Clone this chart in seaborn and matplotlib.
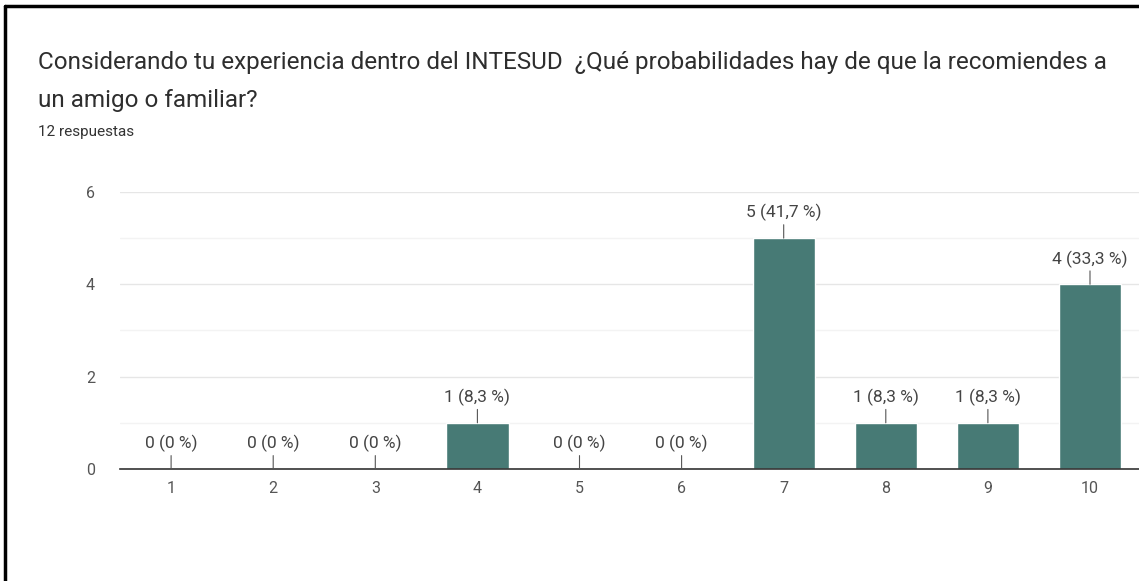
import matplotlib
matplotlib.use("Agg")
import matplotlib.pyplot as plt
from matplotlib.lines import Line2D
import seaborn as sns
import pandas as pd

# Survey data: score options and number of responses per score
scores = ["1", "2", "3", "4", "5", "6", "7", "8", "9", "10"]
counts = [0, 0, 0, 1, 0, 0, 5, 1, 1, 4]
total_responses = 12
y_ticks = [0, 2, 4, 6]

title_line1 = "Considerando tu experiencia dentro del INTESUD  ¿Qué probabilidades hay de que la recomiendes a"
title_line2 = "un amigo o familiar?"
subtitle_text = f"{total_responses} respuestas"

bar_color = "#477a75"

sns.set_theme(style="white")
plt.rcParams["font.family"] = ["Roboto", "DejaVu Sans"]

W, H = 1139, 581
fig = plt.figure(figsize=(W / 100, H / 100), dpi=100)
ax = fig.add_axes([0.1054, 0.1928, 0.8946, 0.4768])

df = pd.DataFrame({"score": scores, "count": counts})
sns.barplot(data=df, x="score", y="count", order=scores, color=bar_color,
            width=0.61, saturation=1, ax=ax, zorder=3)

ax.set_xlim(-0.5, 9.48)
ax.set_ylim(0, 6)
ax.set_yticks(y_ticks)
ax.set_yticks([1, 3, 5], minor=True)
ax.grid(axis="y", which="major", color="#e6e6e6", lw=1, zorder=0)
ax.grid(axis="y", which="minor", color="#f3f3f3", lw=1, zorder=0)
ax.set_xlabel("")
ax.set_ylabel("")
for s in ["top", "right", "left"]:
    ax.spines[s].set_visible(False)
ax.spines["bottom"].set_color("#333333")
ax.spines["bottom"].set_linewidth(1.2)
ax.spines["bottom"].set_zorder(5)
ax.tick_params(axis="both", which="both", length=0, labelsize=11.5, colors="#555555")
ax.tick_params(axis="y", pad=18)
ax.tick_params(axis="x", pad=9)

# Value labels with leader lines
for i, v in enumerate(counts):
    pct = v / total_responses * 100
    pct_txt = "0" if v == 0 else f"{pct:.1f}".replace(".", ",")
    ax.annotate(f"{v} ({pct_txt} %)", xy=(i, v), xytext=(0, 12),
                textcoords="offset points", ha="center", va="bottom",
                fontsize=12.5, color="#444444",
                arrowprops=dict(arrowstyle="-", color="#555555", lw=0.8,
                                shrinkA=0, shrinkB=0), zorder=6)

fig.text(38 / W, 1 - 69 / H, title_line1, fontsize=17.5, color="#2e2e2e",
         ha="left", va="baseline")
fig.text(38 / W, 1 - 107 / H, title_line2, fontsize=17.5, color="#2e2e2e",
         ha="left", va="baseline")
fig.text(38 / W, 1 - 136 / H, subtitle_text, fontsize=11, color="#333333",
         ha="left", va="baseline")

# Frame edges along the left and top
fig.add_artist(Line2D([5 / W, 5 / W], [0, 1 - 6 / H], color="black", lw=2.5,
                      transform=fig.transFigure))
fig.add_artist(Line2D([5 / W, 1], [1 - 6 / H, 1 - 6 / H], color="black", lw=2.5,
                      transform=fig.transFigure))

fig.savefig("out.png", dpi=100)
